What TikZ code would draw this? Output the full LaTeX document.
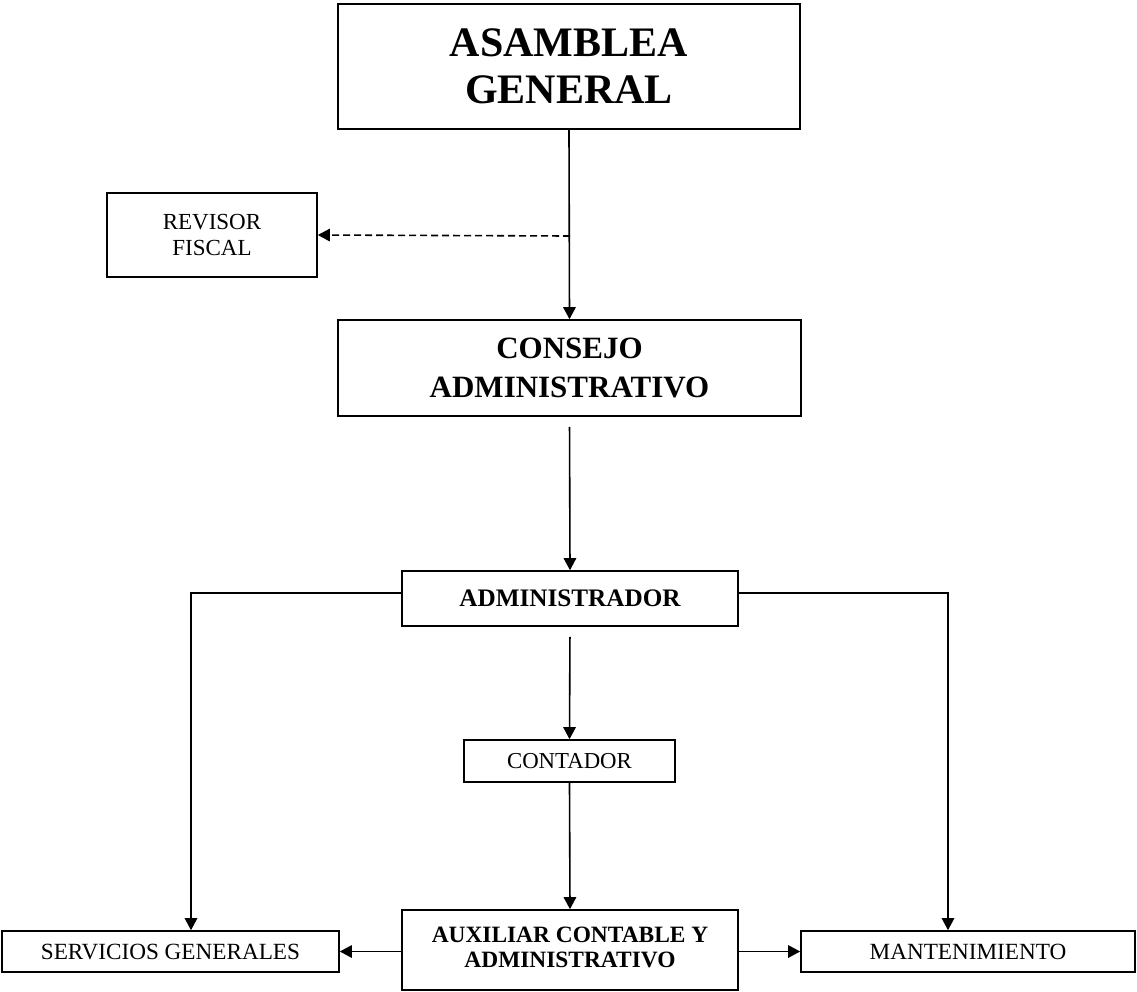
\documentclass[tikz,border=0pt]{standalone}
\usepackage{fontspec}
\setmainfont{Liberation Serif}
\usetikzlibrary{arrows.meta}
\begin{document}
\begin{tikzpicture}[x=0.5pt,y=-0.5pt,
  box/.style={draw, line width=0.8pt, inner sep=0pt, align=center},
  conn/.style={line width=0.8pt, -{Triangle[length=6pt,width=6.2pt]}},
  plain/.style={line width=0.8pt}]
\useasboundingbox (0,0) rectangle (1137,992);

\node[box, minimum width=231pt, minimum height=62.5pt,
  font=\fontsize{21}{23.5}\selectfont\bfseries] (asam) at (569,66.5) {ASAMBLEA\\GENERAL};
\node[box, minimum width=105pt, minimum height=42pt,
  font=\fontsize{11.5}{13}\selectfont] (rev) at (212,235) {REVISOR\\FISCAL};
\node[box, minimum width=231.5pt, minimum height=48pt,
  font=\fontsize{15.5}{19.5}\selectfont\bfseries] (cons) at (569.5,368) {CONSEJO\\ADMINISTRATIVO};
\node[box, minimum width=168pt, minimum height=27.5pt,
  font=\fontsize{12.6}{14}\selectfont\bfseries] (adm) at (570,598.5) {ADMINISTRADOR};
\node[box, minimum width=105.5pt, minimum height=21pt,
  font=\fontsize{11.4}{13}\selectfont] (cont) at (569.5,761) {CONTADOR};
\node[box, minimum width=168pt, minimum height=40pt, text depth=3pt,
  font=\fontsize{11.7}{12.5}\selectfont\bfseries] (aux) at (570,950) {AUXILIAR CONTABLE Y\\ADMINISTRATIVO};
\node[box, minimum width=168.5pt, minimum height=20.5pt,
  font=\fontsize{11.6}{13}\selectfont] (serv) at (170.5,951.5) {SERVICIOS GENERALES};
\node[box, minimum width=167pt, minimum height=20.5pt,
  font=\fontsize{11.6}{13}\selectfont] (mant) at (968,951.5) {MANTENIMIENTO};

\coordinate (branch) at (570,236);

\draw[conn] (asam.south) -- (cons.north);
\draw[conn, dash pattern=on 3.5pt off 2pt] (branch) -- (rev.east);
\draw[conn, shorten <=5pt] (cons.south) -- (adm.north);
\draw[conn, shorten <=5pt] (adm.south) -- (cont.north);
\draw[conn] (cont.south) -- (aux.north);
\draw[conn] ([yshift=2.75pt]adm.west) -| ([xshift=10.25pt]serv.north);
\draw[conn] ([yshift=2.75pt]adm.east) -| ([xshift=-10pt]mant.north);
\draw[conn] (aux.west |- serv.east) -- (serv.east);
\draw[conn] (aux.east |- mant.west) -- (mant.west);
\end{tikzpicture}
\end{document}
